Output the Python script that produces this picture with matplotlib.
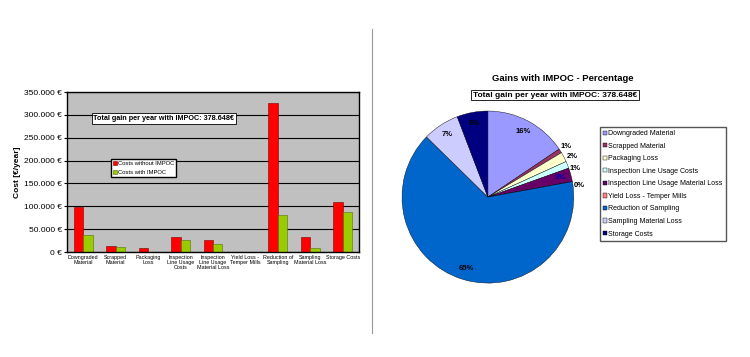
import numpy as np
import matplotlib
matplotlib.use('Agg')
import matplotlib.pyplot as plt
from matplotlib.lines import Line2D
from matplotlib.ticker import FuncFormatter

### data
categories = ['Downgraded\nMaterial', 'Scrapped\nMaterial', 'Packaging\nLoss',
              'Inspection\nLine Usage\nCosts', 'Inspection\nLine Usage\nMaterial Loss',
              'Yield Loss -\nTemper Mills', 'Reduction of\nSampling', 'Sampling\nMaterial Loss',
              'Storage Costs']
cost_without = [98000, 13000, 8000, 32000, 26000, 0, 326000, 34000, 109000]
cost_with    = [38000, 10000, 0, 26000, 17000, 0, 81000, 8000, 87000]

pie_names = ['Downgraded Material', 'Scrapped Material', 'Packaging Loss',
             'Inspection Line Usage Costs', 'Inspection Line Usage Material Loss',
             'Yield Loss - Temper Mills', 'Reduction of Sampling', 'Sampling Material Loss',
             'Storage Costs']
gains = [59000, 3000, 7000, 5000, 9800, 0, 246848, 26000, 22000]
total_text = 'Total gain per year with IMPOC: 378.648€'

pie_colors = ['#9999FF', '#993366', '#FFFFCC', '#CCFFFF', '#660066',
              '#FF8080', '#0066CC', '#CCCCFF', '#000080']

plt.rcParams['font.family'] = ['Liberation Sans', 'DejaVu Sans']

fig = plt.figure(figsize=(7.5, 3.57), dpi=100)
fig.patch.set_facecolor('white')

### bar chart
ax1 = fig.add_axes([0.0893, 0.294, 0.3893, 0.448])
x = np.arange(len(categories))
w = 0.29
ax1.set_facecolor('#C0C0C0')
ax1.set_axisbelow(True)
ax1.yaxis.grid(True, color='black', linewidth=0.8)
b1 = ax1.bar(x - w/2, cost_without, w, color='#FF0000', edgecolor='#800000', linewidth=0.4,
             label='Costs without IMPOC')
b2 = ax1.bar(x + w/2, cost_with, w, color='#99CC00', edgecolor='#557000', linewidth=0.4,
             label='Costs with IMPOC')
ax1.set_xlim(-0.5, len(categories) - 0.5)
ax1.set_ylim(0, 350000)
ax1.set_yticks(np.arange(0, 350001, 50000))
ax1.yaxis.set_major_formatter(FuncFormatter(lambda v, p: '{:,.0f} €'.format(v).replace(',', '.')))
ax1.set_xticks(x)
ax1.set_xticklabels(categories, fontsize=3.9, linespacing=1.0)
ax1.tick_params(axis='y', labelsize=6, length=2, pad=1.5)
ax1.tick_params(axis='x', length=0, pad=2)
for s in ax1.spines.values():
    s.set_color('black')
    s.set_linewidth(1.0)
ax1.set_ylabel('Cost [€/year]', fontsize=6, fontweight='bold', labelpad=2)
ax1.legend(loc='upper left', bbox_to_anchor=(0.14, 0.6), fontsize=4.2, frameon=True,
           fancybox=False, edgecolor='black', framealpha=1, handlelength=0.6, handleheight=0.6,
           handletextpad=0.2, borderpad=0.4, labelspacing=0.6)
ax1.text(0.09, 0.835, total_text, transform=ax1.transAxes, fontsize=5.2, fontweight='bold',
         va='center', bbox=dict(facecolor='white', edgecolor='black', linewidth=0.6, pad=1.2))

### separator
fig.add_artist(Line2D([0.496, 0.496], [0.067, 0.919], color='#999999', linewidth=0.8))

### pie chart
ax2 = fig.add_axes([0.536, 0.207, 0.229, 0.482])
wedges, _ = ax2.pie(gains, colors=pie_colors, startangle=90, counterclock=False,
                    wedgeprops=dict(edgecolor='black', linewidth=0.3))
ax2.set_xlim(-1, 1)
ax2.set_ylim(-1, 1)
ax2.set_aspect('auto')

tot = sum(gains)
ang = 90.0
outside_pos = {1: (0.91, 0.59), 2: (0.98, 0.47), 3: (1.02, 0.33), 5: (1.06, 0.14)}
for i, g in enumerate(gains):
    frac = g / tot
    mid = np.deg2rad(ang - frac * 360 / 2)
    ang -= frac * 360
    lab = '{:.0f}%'.format(frac * 100)
    if i in outside_pos:
        px, py = outside_pos[i]
        ax2.text(px, py, lab, fontsize=5.5, fontweight='bold',
                 ha='center', va='center', clip_on=False)
    else:
        r = 0.87
        col = 'black' if i != 4 else '#0000AA'
        ax2.text(r * np.cos(mid), r * np.sin(mid), lab, fontsize=5.5, fontweight='bold',
                 ha='center', va='center', color=col)

fig.text(0.751, 0.781, 'Gains with IMPOC - Percentage', fontsize=6.8, fontweight='bold',
         ha='center', va='center')
fig.text(0.74, 0.733, total_text, fontsize=6.0, fontweight='bold', ha='center', va='center',
         bbox=dict(facecolor='white', edgecolor='black', linewidth=0.6, pad=1.2))

fig.legend(wedges, pie_names, loc='upper left', bbox_to_anchor=(0.795, 0.655), fontsize=5.0,
           frameon=True, fancybox=False, edgecolor='#555555', framealpha=1, handlelength=0.55,
           handleheight=0.55, handletextpad=0.2, borderpad=0.5, labelspacing=0.8)

fig.savefig('out.png', dpi=100, facecolor='white')
